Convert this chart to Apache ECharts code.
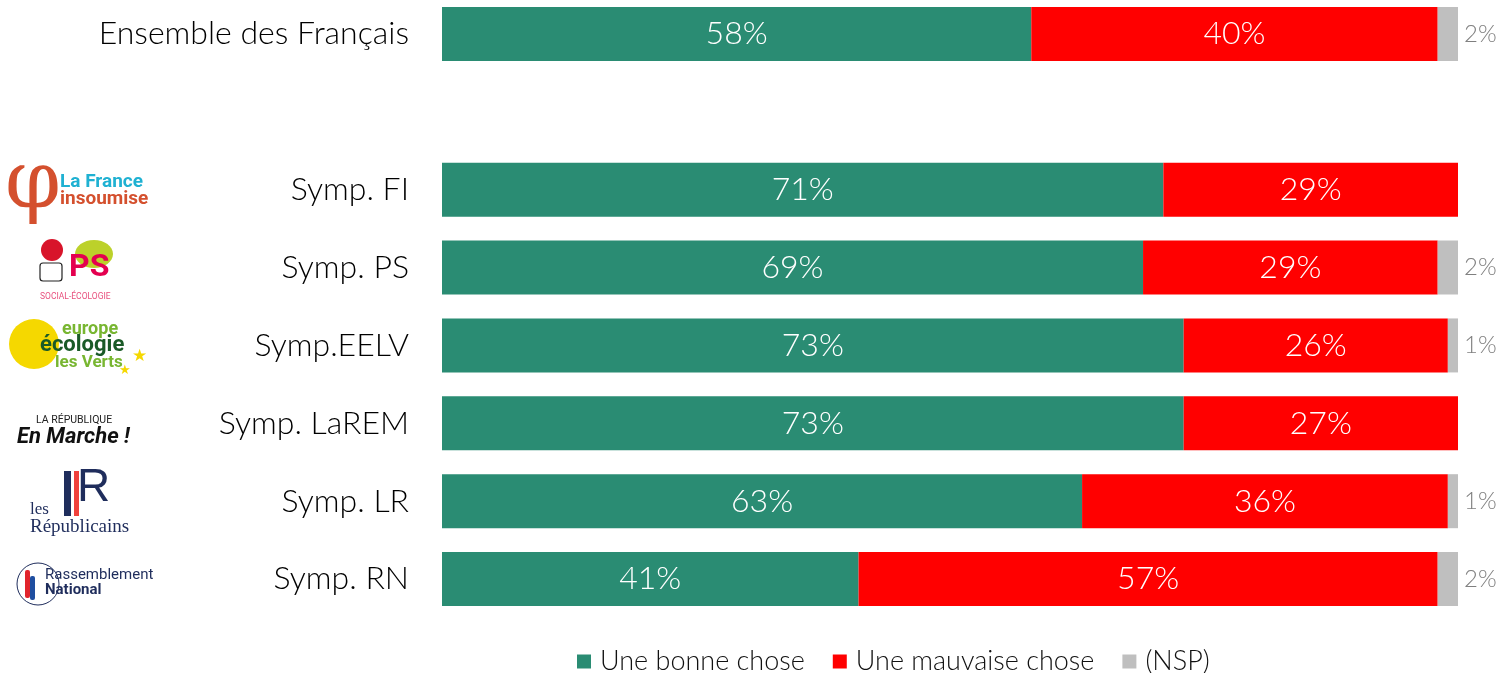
<!DOCTYPE html>
<html><head><meta charset="utf-8">
<script src="https://cdn.jsdelivr.net/npm/echarts@6/dist/echarts.min.js"></script>
<style>html,body{margin:0;padding:0;background:#fff}#c{width:1508px;height:673px}</style>
</head><body><div id="c"></div>
<script>
const categories = ['Ensemble des Français', '', 'Symp. FI', 'Symp. PS', 'Symp.EELV', 'Symp. LaREM', 'Symp. LR', 'Symp. RN'];
const bonne = [58, null, 71, 69, 73, 73, 63, 41];
const mauvaise = [40, null, 29, 29, 26, 27, 36, 57];
const nsp = [2, null, 0, 2, 1, 0, 1, 2];
const seriesNames = ['Une bonne chose', 'Une mauvaise chose', '(NSP)'];

const FONT = 'Lato';
const chart = echarts.init(document.getElementById('c'));

function t(x, y, text, style) {
  return { type: 'text', left: x, top: y, style: Object.assign({ text: text, fontFamily: 'Roboto', fontSize: 12, fill: '#000' }, style) };
}
const logos = [
  // FI
  t(5, 146, 'φ', { fontSize: 80, fill: '#d4502e', fontFamily: 'DejaVu Serif' }),
  t(60, 173, 'La France', { fontSize: 19, fontWeight: 'bold', fill: '#1fb1d2' }),
  t(60, 190, 'insoumise', { fontSize: 19, fontWeight: 'bold', fill: '#d4502e' }),
  // PS
  { type: 'ellipse', shape: { cx: 94, cy: 254, rx: 19, ry: 14 }, style: { fill: '#bcd12a' } },
  { type: 'circle', shape: { cx: 52, cy: 250, r: 11 }, style: { fill: '#d8142a' } },
  { type: 'rect', shape: { x: 40, y: 263, width: 22, height: 18, r: 3 }, style: { fill: '#fff', stroke: '#222', lineWidth: 1.2 } },
  t(69, 252, 'PS', { fontSize: 32, fontWeight: 'bold', fill: '#e4004f' }),
  t(40, 292, 'SOCIAL-ÉCOLOGIE', { fontSize: 8.5, fill: '#e8507e' }),
  // EELV
  { type: 'circle', shape: { cx: 34, cy: 344, r: 25 }, style: { fill: '#f5d800' } },
  t(62, 320, 'europe', { fontSize: 18, fontWeight: 'bold', fill: '#78b631' }),
  t(40, 334, 'écologie', { fontSize: 22, fontWeight: 'bold', fill: '#1a5a27' }),
  t(55, 354, 'les Verts', { fontSize: 17, fontWeight: 'bold', fill: '#78b631' }),
  t(132, 348, '★', { fontSize: 17, fill: '#f5d800', fontFamily: 'DejaVu Sans' }),
  t(119, 364, '★', { fontSize: 13, fill: '#f5d800', fontFamily: 'DejaVu Sans' }),
  // LaREM
  t(36, 415, 'LA RÉPUBLIQUE', { fontSize: 10.5, fill: '#222' }),
  t(17, 426, 'En Marche !', { fontSize: 22, fontWeight: 'bold', fontStyle: 'italic', fill: '#111' }),
  // LR
  { type: 'rect', shape: { x: 64, y: 471, width: 7, height: 45 }, style: { fill: '#1f2d5c' } },
  { type: 'rect', shape: { x: 74, y: 471, width: 5, height: 45 }, style: { fill: '#f0413c' } },
  t(77, 465, 'R', { fontSize: 46, fill: '#1f2d5c', fontFamily: 'Liberation Sans' }),
  t(30, 501, 'les', { fontSize: 17, fill: '#1f2d5c', fontFamily: 'Liberation Serif' }),
  t(30, 518, 'Républicains', { fontSize: 19, fill: '#1f2d5c', fontFamily: 'Liberation Serif' }),
  // RN
  { type: 'circle', shape: { cx: 38, cy: 584, r: 21 }, style: { fill: 'none', stroke: '#1f2d5c', lineWidth: 1 } },
  { type: 'rect', shape: { x: 25, y: 570, width: 5, height: 28, r: 2 }, style: { fill: '#e1242c' } },
  { type: 'rect', shape: { x: 30, y: 576, width: 5, height: 24, r: 2 }, style: { fill: '#1f4ea0' } },
  t(45, 568, 'Rassemblement', { fontSize: 15, fill: '#1f2d5c' }),
  t(45, 583, 'National', { fontSize: 15, fontWeight: 'bold', fill: '#1f2d5c' })
];

const labelInside = {
  show: true, position: 'inside', color: '#fff', fontFamily: FONT, fontWeight: 300, fontSize: 32,
  formatter: p => p.value ? p.value + '%' : ''
};

chart.setOption({
  animation: false,
  color: ['#2a8c73', '#ff0000', '#bfbfbf'],
  grid: { left: 442, right: 50, top: -5, bottom: 55, outerBoundsMode: 'none', containLabel: false },
  legend: {
    left: 572, top: 643, itemWidth: 14, itemHeight: 14, itemGap: 28, icon: 'rect',
    textStyle: { fontFamily: FONT, fontWeight: 300, fontSize: 27, color: '#111', padding: [0, 0, 0, 4] },
    data: seriesNames
  },
  xAxis: { type: 'value', min: 0, max: 100, show: false },
  yAxis: {
    type: 'category', data: categories, inverse: true,
    axisLine: { show: false }, axisTick: { show: false },
    axisLabel: { margin: 33, fontFamily: FONT, fontWeight: 300, fontSize: 32, color: '#000' }
  },
  series: [
    { name: seriesNames[0], type: 'bar', stack: 's', barWidth: 54, data: bonne, label: labelInside },
    { name: seriesNames[1], type: 'bar', stack: 's', barWidth: 54, data: mauvaise, label: labelInside },
    { name: seriesNames[2], type: 'bar', stack: 's', barWidth: 54, data: nsp,
      label: { show: true, position: 'right', distance: 6, color: '#7f7f7f', fontFamily: FONT, fontWeight: 300, fontSize: 24,
        formatter: p => p.value ? p.value + '%' : '' } }
  ],
  graphic: logos
});
</script></body></html>
